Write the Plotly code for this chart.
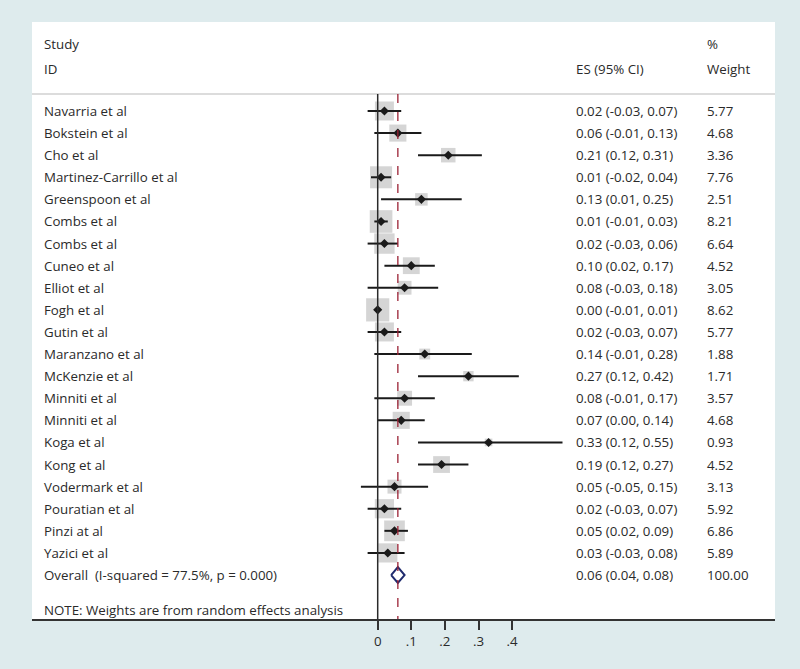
import math
import plotly.graph_objects as go

# ---- data ----
studies = ["Navarria et al", "Bokstein et al", "Cho et al", "Martinez-Carrillo et al",
           "Greenspoon et al", "Combs et al", "Combs et al", "Cuneo et al", "Elliot et al",
           "Fogh et al", "Gutin et al", "Maranzano et al", "McKenzie et al", "Minniti et al",
           "Minniti et al", "Koga et al", "Kong et al", "Vodermark et al", "Pouratian et al",
           "Pinzi at al", "Yazici et al"]
es = [0.02, 0.06, 0.21, 0.01, 0.13, 0.01, 0.02, 0.10, 0.08, 0.00, 0.02, 0.14, 0.27,
      0.08, 0.07, 0.33, 0.19, 0.05, 0.02, 0.05, 0.03]
lo = [-0.03, -0.01, 0.12, -0.02, 0.01, -0.01, -0.03, 0.02, -0.03, -0.01, -0.03, -0.01,
      0.12, -0.01, 0.00, 0.12, 0.12, -0.05, -0.03, 0.02, -0.03]
hi = [0.07, 0.13, 0.31, 0.04, 0.25, 0.03, 0.06, 0.17, 0.18, 0.01, 0.07, 0.28, 0.42,
      0.17, 0.14, 0.55, 0.27, 0.15, 0.07, 0.09, 0.08]
weights = [5.77, 4.68, 3.36, 7.76, 2.51, 8.21, 6.64, 4.52, 3.05, 8.62, 5.77, 1.88, 1.71,
           3.57, 4.68, 0.93, 4.52, 3.13, 5.92, 6.86, 5.89]
overall_label = "Overall  (I-squared = 77.5%, p = 0.000)"
overall_es, overall_lo, overall_hi, overall_w = 0.06, 0.04, 0.08, 100.00
note = "NOTE: Weights are from random effects analysis"
tick_vals = [0, 0.1, 0.2, 0.3, 0.4]
tick_text = ["0", ".1", ".2", ".3", ".4"]

FONT = "Open Sans"
FS = 13.3
BG = "#deebed"
n = len(studies)
rows = list(range(n))
ov_row = n

fig = go.Figure()

# CI lines
cx, cy = [], []
for r, a, b in zip(rows, lo, hi):
    cx += [a, b, None]
    cy += [r, r, None]

# weight boxes
fig.add_trace(go.Scatter(
    x=es, y=rows, mode="markers",
    marker=dict(symbol="square", size=[7.9 * math.sqrt(w) for w in weights],
                color="#c3c3c3", line=dict(width=0)),
    hoverinfo="skip"))
fig.add_trace(go.Scatter(x=cx, y=cy, mode="lines",
                         line=dict(color="#1a1a1a", width=2), hoverinfo="skip"))
fig.add_trace(go.Scatter(x=es, y=rows, mode="markers",
                         marker=dict(symbol="diamond", size=7, color="#1a1a1a"),
                         hoverinfo="skip"))
# overall diamond
fig.add_trace(go.Scatter(
    x=[overall_lo, overall_es, overall_hi, overall_es, overall_lo],
    y=[ov_row, ov_row - 0.36, ov_row, ov_row + 0.36, ov_row],
    mode="lines", line=dict(color="#1f2b6e", width=2), fill="toself",
    fillcolor="white", hoverinfo="skip"))

# pixel mapping helpers: plot area x 32..775, y 22..619
def px(xpix):
    return (xpix - 32) / 743.0

ann = []
def txt(x, y, s, yref="y"):
    ann.append(dict(x=x, y=y, xref="paper", yref=yref, text=s, showarrow=False,
                    xanchor="left", yanchor="middle",
                    font=dict(family=FONT, size=FS, color="#2a2a2a")))

# headers (row coordinates)
txt(px(42), -3.03, "Study")
txt(px(42), -1.9, "ID")
txt(px(574), -1.9, "ES (95% CI)")
txt(px(705), -3.03, "%")
txt(px(705), -1.9, "Weight")

for r in rows:
    txt(px(42), r, studies[r])
    txt(px(574), r, f"{es[r]:.2f} ({lo[r]:.2f}, {hi[r]:.2f})")
    txt(px(705), r, f"{weights[r]:.2f}")
txt(px(42), ov_row, overall_label)
txt(px(574), ov_row, f"{overall_es:.2f} ({overall_lo:.2f}, {overall_hi:.2f})")
txt(px(705), ov_row, f"{overall_w:.2f}")
txt(px(42), 22.6, note)

sep = -0.77
ybot = 22.99
shapes = [
    dict(type="line", xref="paper", yref="y", x0=0, x1=1, y0=sep, y1=sep,
         line=dict(color="#d0d0d0", width=1.5)),
    dict(type="line", xref="x", yref="y", x0=0, x1=0, y0=sep, y1=ybot,
         line=dict(color="#2a2a2a", width=1.5)),
    dict(type="line", xref="x", yref="y", x0=overall_es, x1=overall_es, y0=sep, y1=ybot,
         line=dict(color="#9b2335", width=1.3, dash="dash")),
]

x0 = (32 - 377.7) / 336.0
x1 = (775 - 377.7) / 336.0

fig.update_layout(
    width=800, height=669,
    margin=dict(l=32, r=25, t=22, b=50, pad=0),
    paper_bgcolor=BG, plot_bgcolor="white",
    showlegend=False, hovermode=False,
    annotations=ann, shapes=shapes,
    xaxis=dict(range=[x0, x1], tickvals=tick_vals, ticktext=tick_text,
               showgrid=False, zeroline=False, showline=True, linecolor="#333",
               linewidth=1.5, ticks="outside", ticklen=9, tickwidth=1.5,
               tickcolor="#333", tickfont=dict(family=FONT, size=FS, color="#2a2a2a"),
               fixedrange=True),
    yaxis=dict(range=[ybot, -4.027], visible=False, showgrid=False,
               zeroline=False, fixedrange=True),
)

fig.write_html(
    "out.html",
    config={"displayModeBar": False},
    post_script="document.body.style.margin='0';document.body.style.background='%s';" % BG,
)
